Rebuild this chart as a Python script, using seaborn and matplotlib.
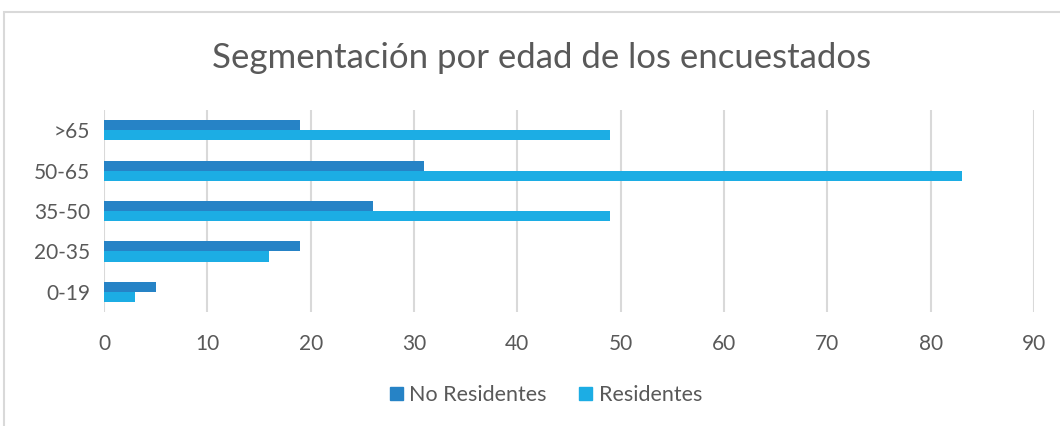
import matplotlib
matplotlib.use("Agg")
import matplotlib.pyplot as plt
import matplotlib.patches as mpatches
import seaborn as sns
import pandas as pd

# Data
categories = [">65", "50-65", "35-50", "20-35", "0-19"]
no_residentes = [19, 31, 26, 19, 5]
residentes = [49, 83, 49, 16, 3]
series = ["No Residentes", "Residentes"]
colors = ["#2683C6", "#1CADE4"]

df = pd.DataFrame({
    "Edad": categories * 2,
    "Valor": no_residentes + residentes,
    "Grupo": [series[0]] * len(categories) + [series[1]] * len(categories),
})

sns.set_style("white")
plt.rcParams["font.family"] = ["Lato", "DejaVu Sans"]
text_col = "#595959"

fig = plt.figure(figsize=(10.6, 4.26), dpi=100)
ax = fig.add_axes([104 / 1060, 1 - 312 / 426, 930 / 1060, 202 / 426])

sns.barplot(data=df, x="Valor", y="Edad", hue="Grupo", order=categories,
            hue_order=series, palette=colors, orient="h", width=0.5,
            saturation=1, linewidth=0, ax=ax, legend=False)

ax.set_xlim(0, 90)
ax.set_ylim(4.5, -0.5)
ax.set_xticks(range(0, 91, 10))
ax.xaxis.grid(True, color="#D9D9D9", linewidth=1.5)
ax.set_axisbelow(True)
for s in ax.spines.values():
    s.set_visible(False)
ax.tick_params(axis="both", length=0, labelsize=15, labelcolor=text_col)
ax.tick_params(axis="x", pad=16)
ax.tick_params(axis="y", pad=10)
ax.set_xlabel("")
ax.set_ylabel("")

fig.text(542 / 1060, 1 - 58 / 426, "Segmentación por edad de los encuestados",
         ha="center", va="center", fontsize=25, color=text_col)

handles = [mpatches.Patch(color=c, label=l) for c, l in zip(colors, series)]
fig.legend(handles=handles, loc="center", bbox_to_anchor=(546 / 1060, 1 - 395 / 426),
           ncol=2, frameon=False, fontsize=15.5, labelcolor=text_col,
           handlelength=0.6, handleheight=0.6, handletextpad=0.3,
           columnspacing=1.5)

# chart border
border = mpatches.Rectangle((4 / 1060, -0.1), 1.1, 1 - 12 / 426 + 0.1,
                            transform=fig.transFigure, fill=False,
                            edgecolor="#D9D9D9", linewidth=1.5)
fig.patches.append(border)

fig.savefig("out.png", dpi=100)
